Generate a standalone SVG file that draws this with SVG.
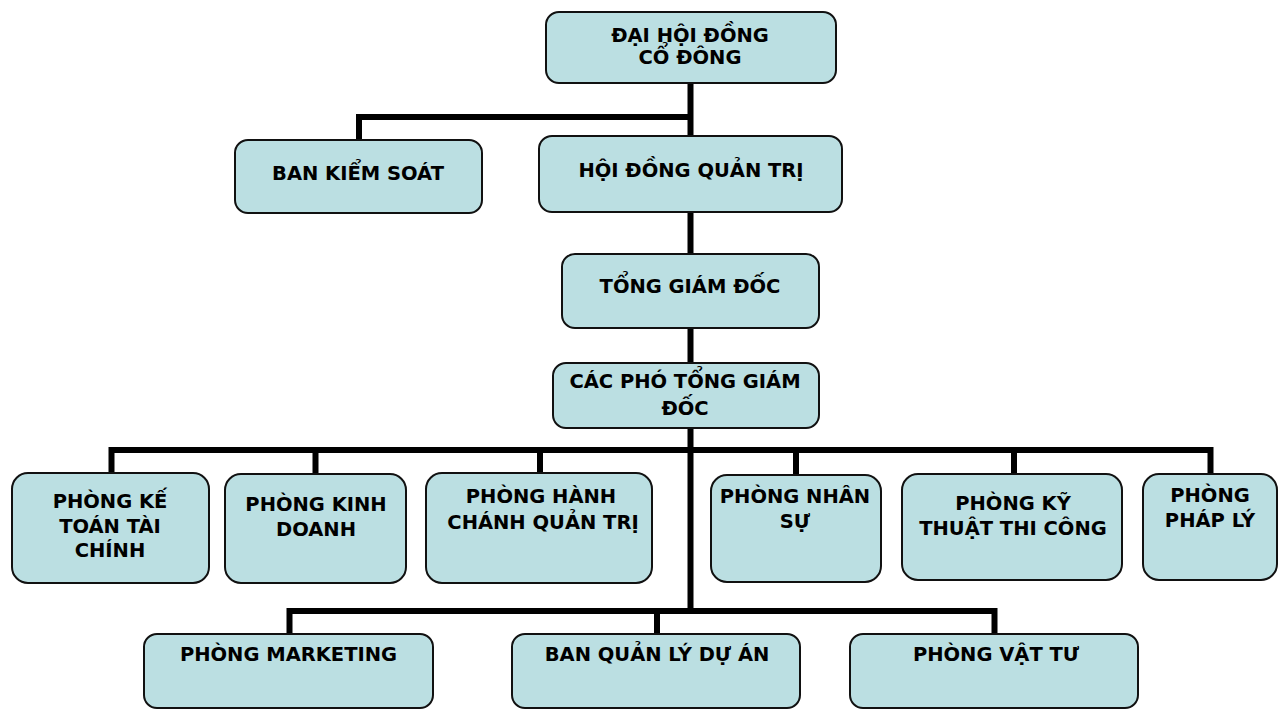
<svg xmlns="http://www.w3.org/2000/svg" width="1282" height="709" viewBox="0 0 1282 709">
<style>
.box{fill:#BBDFE2;stroke:#111;stroke-width:2}
.lbl{font-family:"DejaVu Sans",Verdana,sans-serif;font-weight:bold;font-size:19.5px;fill:#000;text-anchor:middle}
.con{fill:none;stroke:#000;stroke-width:6;stroke-linejoin:miter;stroke-linecap:butt}
</style>
<rect width="1282" height="709" fill="#fff"/>
<g id="connectors">
<path class="con" d="M690.5,82 V612"/>
<path class="con" d="M690.5,117 H359 V141"/>
<path class="con" d="M111.5,474 V450 H1210.5 V474"/>
<path class="con" d="M315.5,450 V474 M540,450 V474 M796,450 V475 M1014,450 V474"/>
<path class="con" d="M289.5,634 V611 H994.5 V634"/>
<path class="con" d="M657,611 V634"/>
</g>
<g id="dai-hoi-dong-co-dong"><rect class="box" x="546" y="12" width="290" height="71" rx="13"/><text class="lbl" x="690" y="42">ĐẠI HỘI ĐỒNG</text><text class="lbl" x="690" y="64">CỔ ĐÔNG</text></g>
<g id="ban-kiem-soat"><rect class="box" x="235" y="140" width="247" height="73" rx="13"/><text class="lbl" x="358" y="180">BAN KIỂM SOÁT</text></g>
<g id="hoi-dong-quan-tri"><rect class="box" x="539" y="136" width="303" height="76" rx="13"/><text class="lbl" x="691" y="177">HỘI ĐỒNG QUẢN TRỊ</text></g>
<g id="tong-giam-doc"><rect class="box" x="562" y="254" width="257" height="74" rx="13"/><text class="lbl" x="690" y="293">TỔNG GIÁM ĐỐC</text></g>
<g id="cac-pho-tong-giam-doc"><rect class="box" x="553" y="363" width="266" height="65" rx="13"/><text class="lbl" x="685" y="388">CÁC PHÓ TỔNG GIÁM</text><text class="lbl" x="685" y="415">ĐỐC</text></g>
<g id="phong-ke-toan"><rect class="box" x="12" y="473" width="197" height="110" rx="16"/><text class="lbl" x="110" y="508">PHÒNG KẾ</text><text class="lbl" x="110" y="533">TOÁN TÀI</text><text class="lbl" x="110" y="557">CHÍNH</text></g>
<g id="phong-kinh-doanh"><rect class="box" x="225" y="474" width="181" height="109" rx="16"/><text class="lbl" x="316" y="511">PHÒNG KINH</text><text class="lbl" x="316" y="536">DOANH</text></g>
<g id="phong-hanh-chanh"><rect class="box" x="426" y="473" width="226" height="110" rx="16"/><text class="lbl" x="541" y="503">PHÒNG HÀNH</text><text class="lbl" x="543" y="529">CHÁNH QUẢN TRỊ</text></g>
<g id="phong-nhan-su"><rect class="box" x="711" y="475" width="170" height="107" rx="16"/><text class="lbl" x="795" y="503">PHÒNG NHÂN</text><text class="lbl" x="795" y="528">SỰ</text></g>
<g id="phong-ky-thuat"><rect class="box" x="902" y="474" width="220" height="106" rx="16"/><text class="lbl" x="1013" y="510">PHÒNG KỸ</text><text class="lbl" x="1013" y="535">THUẬT THI CÔNG</text></g>
<g id="phong-phap-ly"><rect class="box" x="1143" y="474" width="134" height="106" rx="16"/><text class="lbl" x="1210" y="502">PHÒNG</text><text class="lbl" x="1210" y="527">PHÁP LÝ</text></g>
<g id="phong-marketing"><rect class="box" x="144" y="634" width="289" height="74" rx="13"/><text class="lbl" x="288.5" y="661">PHÒNG MARKETING</text></g>
<g id="ban-quan-ly-du-an"><rect class="box" x="512" y="634" width="288" height="74" rx="13"/><text class="lbl" x="657" y="661">BAN QUẢN LÝ DỰ ÁN</text></g>
<g id="phong-vat-tu"><rect class="box" x="850" y="634" width="288" height="74" rx="13"/><text class="lbl" x="996" y="661">PHÒNG VẬT TƯ</text></g>
</svg>
